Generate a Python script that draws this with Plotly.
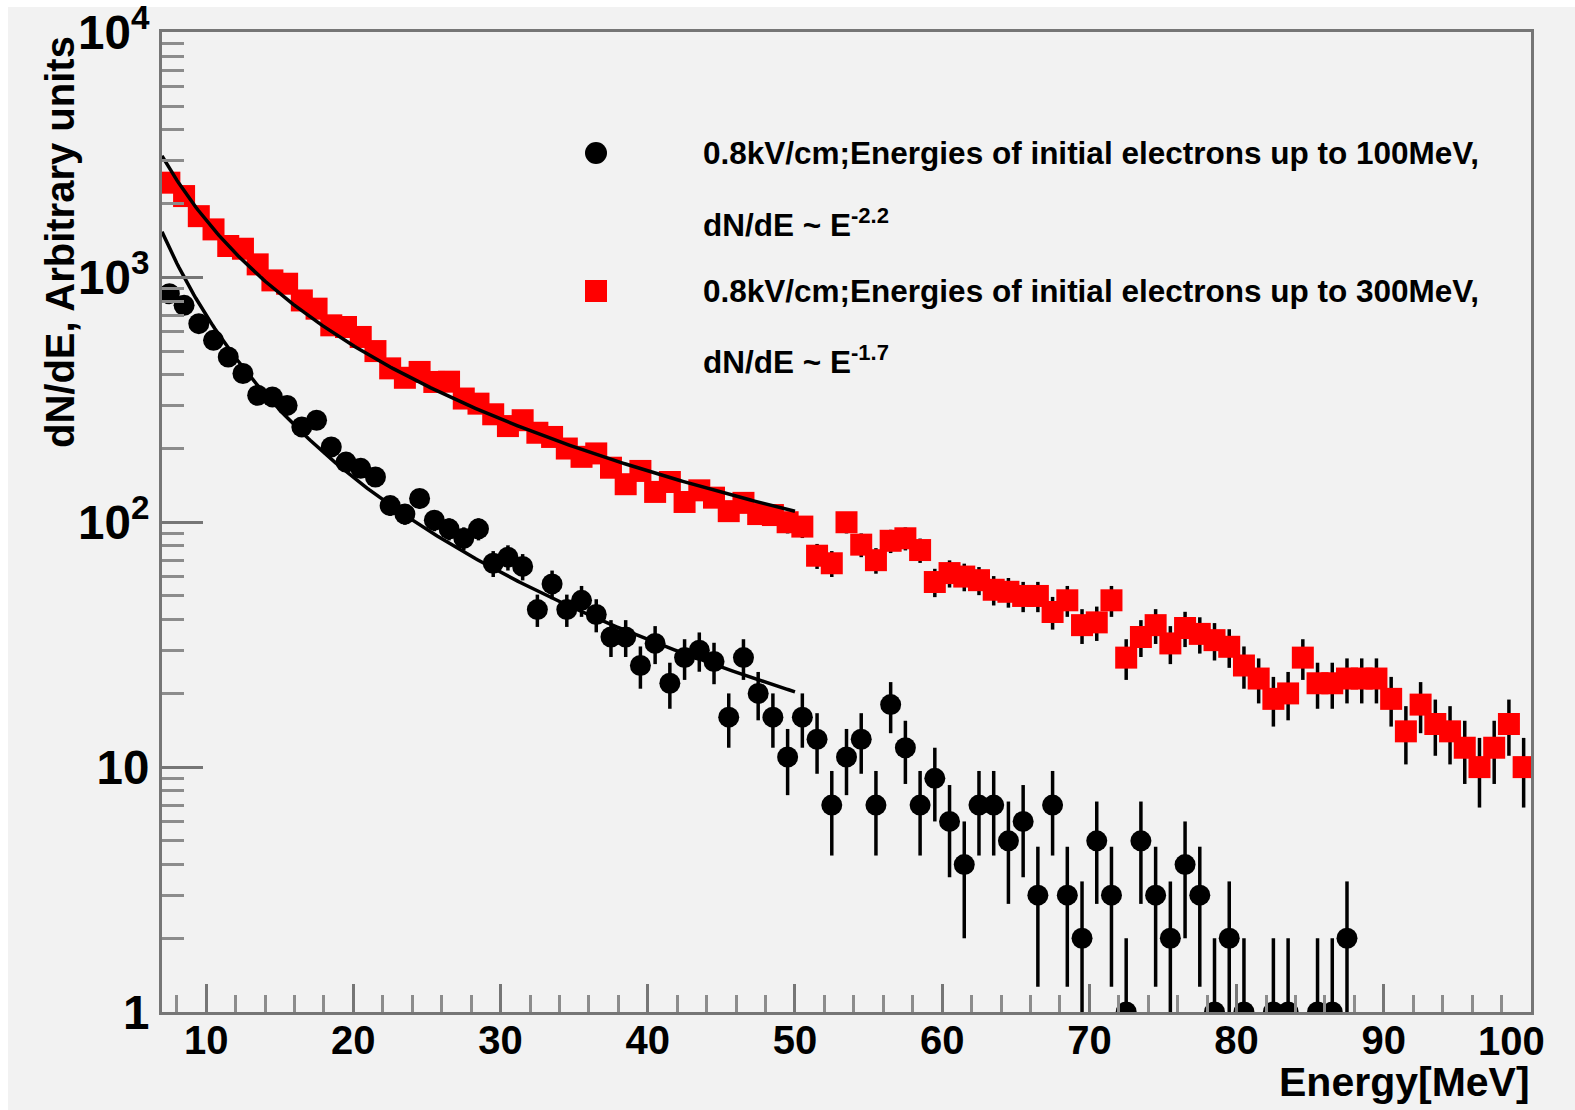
import numpy as np
import plotly.graph_objects as go

# ---------------------------------------------------------------------------
# Electron energy spectra, 0.8 kV/cm field, 1 MeV bins from 7 to 100 MeV
# ---------------------------------------------------------------------------
bin_centers = np.arange(7.5, 100.0, 1.0)

# initial electrons up to 100 MeV (counts per bin, 0 = empty bin)
counts_100mev = [
    858, 769, 647, 553, 473, 405, 330, 325, 300, 245,
    261, 203, 176, 166, 153, 117, 108, 125, 102, 94,
    86, 94, 68, 72, 66, 44, 56, 44, 48, 42,
    34, 34, 26, 32, 22, 28, 30, 27, 16, 28,
    20, 16, 11, 16, 13, 7, 11, 13, 7, 18,
    12, 7, 9, 6, 4, 7, 7, 5, 6, 3,
    7, 3, 2, 5, 3, 1, 5, 3, 2, 4,
    3, 1, 2, 1, 0, 1, 1, 0, 1, 1,
    2, 0, 0, 0, 0, 0, 0, 0, 0, 0,
    0, 0, 0,
]

# initial electrons up to 300 MeV
counts_300mev = [
    2436, 2148, 1778, 1570, 1343, 1309, 1130, 972, 942, 805,
    745, 637, 627, 571, 500, 425, 389, 411, 374, 375,
    320, 305, 276, 247, 261, 232, 223, 200, 185, 191,
    167, 143, 162, 133, 146, 121, 135, 126, 111, 120,
    108, 107, 100, 96, 73, 68, 100, 81, 70, 84,
    86, 77, 57, 62, 60, 58, 53, 52, 50, 50,
    43, 48, 38, 39, 48, 28, 34, 38, 32, 37,
    35, 33, 31, 26, 23, 19, 20, 28, 22, 22,
    23, 23, 23, 19, 14, 18, 15, 14, 12, 10,
    12, 15, 10,
]

# power-law fits dN/dE = norm * E^-index over 7-50 MeV
fit_range = (7.0, 50.0)
fit_100mev = {"norm": 1.11e5, "index": 2.2}
fit_300mev = {"norm": 8.57e4, "index": 1.7}

legend_lines = [
    "0.8kV/cm;Energies of initial electrons up to 100MeV,",
    "dN/dE ~ E<sup>-2.2</sup>",
    "0.8kV/cm;Energies of initial electrons up to 300MeV,",
    "dN/dE ~ E<sup>-1.7</sup>",
]

x_ticks = [10, 20, 30, 40, 50, 60, 70, 80, 90, 100]
x_tick_text = ["10", "20", "30", "40", "50", "60", "70", "80", "90", "100"]

# ---------------------------------------------------------------------------
# Page geometry (pixels)
# ---------------------------------------------------------------------------
W, H = 1575, 1110
L, R, T, B = 162, 44, 32, 98
PW, PH = W - L - R, H - T - B

FONT = "Liberation Sans, Arial, Helvetica, sans-serif"
BG = "#f2f2f2"
AXIS_GREY = "#767676"


def px_x(px):
    return (px - L) / PW


def px_y(py):
    return (H - B - py) / PH


def hist_points(counts):
    y = [c if c > 0 else None for c in counts]
    err = [float(np.sqrt(c)) for c in counts]
    return y, err


fig = go.Figure()

# 300 MeV spectrum (red squares)
y_red, e_red = hist_points(counts_300mev)
fig.add_trace(go.Scatter(
    x=bin_centers, y=y_red, mode="markers",
    marker=dict(symbol="square", size=22, color="#ff0000", line=dict(width=0)),
    error_y=dict(type="data", array=e_red, color="black", thickness=3.5, width=0),
    showlegend=False,
))

# 100 MeV spectrum (black circles)
y_blk, e_blk = hist_points(counts_100mev)
fig.add_trace(go.Scatter(
    x=bin_centers, y=y_blk, mode="markers",
    marker=dict(symbol="circle", size=21, color="black", line=dict(width=0)),
    error_y=dict(type="data", array=e_blk, color="black", thickness=3.5, width=0),
    showlegend=False,
))

# fitted power laws
e_fit = np.linspace(fit_range[0], fit_range[1], 300)
for fit in (fit_300mev, fit_100mev):
    fig.add_trace(go.Scatter(
        x=e_fit, y=fit["norm"] * e_fit ** (-fit["index"]), mode="lines",
        line=dict(color="black", width=3.5), showlegend=False,
    ))

# ---------------------------------------------------------------------------
# Legend drawn by hand (ROOT TLegend look)
# ---------------------------------------------------------------------------
shapes = [
    # thin white margin on the top and left of the canvas
    dict(type="rect", xref="paper", yref="paper", x0=px_x(0), x1=px_x(W),
         y0=px_y(0), y1=px_y(7), fillcolor="white", line=dict(width=0), layer="below"),
    dict(type="rect", xref="paper", yref="paper", x0=px_x(0), x1=px_x(8),
         y0=px_y(0), y1=px_y(H), fillcolor="white", line=dict(width=0), layer="below"),
    # legend symbols
    dict(type="circle", xref="paper", yref="paper",
         x0=px_x(585), x1=px_x(607), y0=px_y(142), y1=px_y(164),
         fillcolor="black", line=dict(width=0)),
    dict(type="rect", xref="paper", yref="paper",
         x0=px_x(585), x1=px_x(607), y0=px_y(280), y1=px_y(302),
         fillcolor="#ff0000", line=dict(width=0)),
]

annotations = []
legend_y = [153, 223, 291, 360]
for text, ly in zip(legend_lines, legend_y):
    annotations.append(dict(
        text=text, xref="paper", yref="paper", x=px_x(701), y=px_y(ly),
        xanchor="left", yanchor="middle", showarrow=False,
        font=dict(family=FONT, size=31.5, color="black", weight="bold"),
    ))

tick_font = dict(family=FONT, size=40, color="black", weight="bold")

# the last x label is pulled inside the frame edge
annotations.append(dict(
    text=x_tick_text[-1], xref="x", yref="paper", x=x_ticks[-1], y=px_y(1041),
    xanchor="center", yanchor="middle", xshift=-20, showarrow=False, font=tick_font,
))

# axis titles
annotations.append(dict(
    text="dN/dE, Arbitrary units", xref="paper", yref="paper",
    x=px_x(60), y=px_y(34), xanchor="center", yanchor="top", textangle=-90,
    showarrow=False, font=dict(family=FONT, size=40, color="black", weight="bold"),
))
annotations.append(dict(
    text="Energy[MeV]", xref="paper", yref="paper",
    x=px_x(1532), y=px_y(1082), xanchor="right", yanchor="middle",
    showarrow=False, font=dict(family=FONT, size=41, color="black", weight="bold"),
))

fig.update_layout(
    width=W, height=H,
    margin=dict(l=L, r=R, t=T, b=B, pad=0, autoexpand=False),
    paper_bgcolor=BG, plot_bgcolor=BG,
    shapes=shapes, annotations=annotations,
    showlegend=False,
)

fig.update_xaxes(
    range=[7, 100], tickmode="array", tickvals=x_ticks,
    ticktext=x_tick_text[:-1] + [""],
    ticks="inside", ticklen=28, tickwidth=3, tickcolor=AXIS_GREY,
    minor=dict(dtick=2, tick0=0, ticks="inside", ticklen=17, tickwidth=3,
               tickcolor="#8c8c8c", showgrid=False),
    showline=True, linecolor=AXIS_GREY, linewidth=3, mirror=True,
    showgrid=False, zeroline=False, tickfont=tick_font, ticklabelstandoff=-9,
    automargin=False,
)

fig.update_yaxes(
    type="log", range=[0, 4.002], dtick=1, exponentformat="power",
    ticks="inside", ticklen=41, tickwidth=3, tickcolor=AXIS_GREY,
    minor=dict(dtick="D1", ticks="inside", ticklen=22, tickwidth=3,
               tickcolor="#8c8c8c", showgrid=False),
    showline=True, linecolor=AXIS_GREY, linewidth=3, mirror=True,
    showgrid=False, zeroline=False,
    tickfont=dict(family=FONT, size=38, color="black", weight="bold"),
    ticklabelstandoff=2, ticklabeloverflow="allow", automargin=False,
)

fig.write_html("out.html")
